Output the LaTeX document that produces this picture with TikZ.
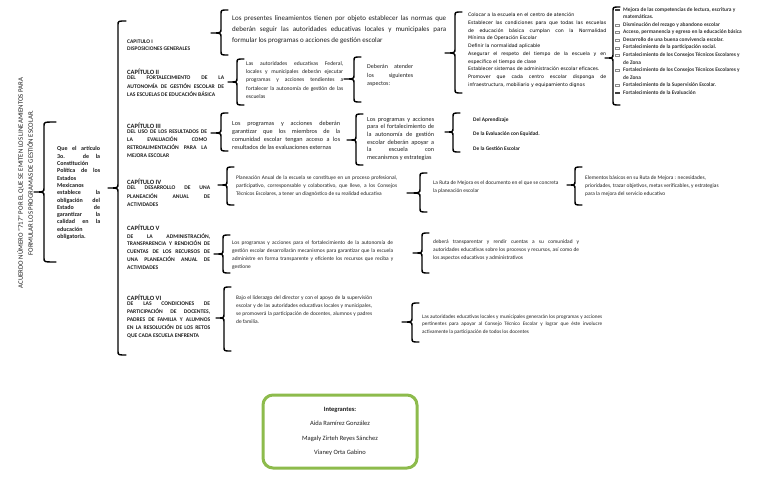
\documentclass[tikz,border=0pt]{standalone}
\usepackage{fontspec}
\setmainfont{Carlito}
\newfontfamily\dejavu{DejaVu Sans}
\newcommand\J[2]{\makebox[#1][s]{#2}}
\newcommand\fsz[2]{\fontsize{#1}{#2}\selectfont}
\newcommand\mybr[6]{\draw[br] (#2+#6,#3) .. controls (#2,#3) .. (#2,#3+4) -- (#2,#5-4) .. controls (#2,#5) .. (#1,#5) .. controls (#2,#5) .. (#2,#5+4) -- (#2,#4-4) .. controls (#2,#4) .. (#2+#6,#4);}
\definecolor{boxgreen}{RGB}{141,187,76}
\begin{document}
\begin{tikzpicture}[x=1pt,y=-1pt,
  br/.style={line width=1.4pt, line cap=round, line join=round, black},
  txt/.style={inner sep=0pt, anchor=north west, align=left, text=black!88},
  captitle/.style={txt, font=\bfseries\fsz{6.5}{8}},
  capbody/.style={txt, font=\bfseries\fsz{5.6}{8}}]
\fill[white] (0,0) rectangle (768,497);
\useasboundingbox (0,0) rectangle (768,497);

% braces
\mybr{34}{44}{122}{262}{192}{12}
\mybr{108}{118}{21}{355}{188}{8}
\mybr{211}{221}{10}{55}{33}{7}
\mybr{228}{237}{59}{105}{82}{7}
\mybr{344}{354}{57}{102}{79}{7}
\mybr{445}{455}{12}{93}{53}{7}
\mybr{605}{613}{7}{105}{58}{7}
\mybr{211}{221}{113}{151}{133}{7}
\mybr{347}{356}{114}{165}{140}{7}
\mybr{445}{453}{113}{152}{132}{7}
\mybr{218}{227}{167}{205}{185}{7}
\mybr{407}{420}{173}{212}{193}{7}
\mybr{567}{575}{167}{205}{185}{7}
\mybr{214}{223}{235}{273}{254}{7}
\mybr{413}{422}{233}{273}{253}{7}
\mybr{216}{224}{287}{351}{318}{7}
\mybr{402}{412}{303}{342}{322}{7}

% title
\node[inner sep=0pt, rotate=90, align=center, text=black!88, font=\fsz{6.8}{10}] (title) at (25,183)
 {ACUERDO NÚMERO "717" POR EL QUE SE EMITEN LOS LINEAMIENTOS PARA\\FORMULAR LOS PROGRAMAS DE GESTIÓN ESCOLAR.};

\node[txt, font=\bfseries\fsz{6}{7.3}] (que) at (57,146.5)
 {\J{43pt}{Que el artículo}\\ \J{43pt}{3o. de la}\\ Constitución\\ \J{43pt}{Política de los}\\ Estados\\ Mexicanos\\ \J{43pt}{establece la}\\ \J{43pt}{obligación del}\\ \J{43pt}{Estado de}\\ \J{43pt}{garantizar la}\\ \J{43pt}{calidad en la}\\ educación\\ obligatoria.};

% chapters
\node[txt, font=\bfseries\fsz{5.5}{7}] (c1) at (127,40.1) {CAPITULO I\\DISPOSICIONES GENERALES};
\node[captitle] (c2t) at (127,68.6) {CAPÍTULO II};
\node[capbody, font=\bfseries\fsz{5.6}{8.2}] (c2b) at (127,76.1)
 {\J{97pt}{DEL FORTALECIMIENTO DE LA}\\ \J{97pt}{AUTONOMÍA DE GESTIÓN ESCOLAR DE}\\ LAS ESCUELAS DE EDUCACIÓN BÁSICA};
\node[captitle] (c3t) at (127,122.6) {CAPÍTULO III};
\node[capbody] (c3b) at (127,130.1)
 {\J{80pt}{DEL USO DE LOS RESULTADOS DE}\\ \J{80pt}{LA EVALUACIÓN COMO}\\ \J{80pt}{RETROALIMENTACIÓN PARA LA}\\ MEJORA ESCOLAR};
\node[captitle] (c4t) at (127,178.6) {CAPÍTULO IV};
\node[capbody, font=\bfseries\fsz{5.6}{8.3}] (c4b) at (127,186.1)
 {\J{83pt}{DEL DESARROLLO DE UNA}\\ \J{83pt}{PLANEACIÓN ANUAL DE}\\ ACTIVIDADES};
\node[captitle] (c5t) at (127,224.6) {CAPÍTULO V};
\node[capbody, font=\bfseries\fsz{5.6}{7.9}] (c5b) at (127,233.1)
 {\J{83pt}{DE LA ADMINISTRACIÓN,}\\ \J{83pt}{TRANSPARENCIA Y RENDICIÓN DE}\\ \J{83pt}{CUENTAS DE LOS RECURSOS DE}\\ \J{83pt}{UNA PLANEACIÓN ANUAL DE}\\ ACTIVIDADES};
\node[captitle] (c6t) at (127,294.6) {CAPÍTULO VI};
\node[capbody] (c6b) at (127,302.1)
 {\J{83pt}{DE LAS CONDICIONES DE}\\ \J{83pt}{PARTICIPACIÓN DE DOCENTES,}\\ \J{83pt}{PADRES DE FAMILIA Y ALUMNOS}\\ \J{83pt}{EN LA RESOLUCIÓN DE LOS RETOS}\\ QUE CADA ESCUELA ENFRENTA};

% row I-II
\node[txt, font=\fsz{7}{11}] (t1) at (232,15.4)
 {\J{214pt}{Los presentes lineamientos tienen por objeto establecer las normas que}\\ \J{214pt}{deberán seguir las autoridades educativas locales y municipales para}\\ formular los programas o acciones de gestión escolar};
\node[txt, font=\fsz{5.6}{8.3}] (t2) at (246,61.1)
 {\J{97pt}{Las autoridades educativas Federal,}\\ \J{97pt}{locales y municipales deberán ejecutar}\\ \J{97pt}{programas y acciones tendientes a}\\ \J{97pt}{fortalecer la autonomía de gestión de las}\\ escuelas};
\node[txt, font=\fsz{6}{8.8}] (t3) at (367,63.9)
 {\J{46pt}{Deberán atender}\\ \J{46pt}{los siguientes}\\ aspectos:};
\node[txt, font=\dejavu\fsz{4.7}{7.75}, text=black] (t4) at (468,12.6)
 {Colocar a la escuela en el centro de atención\\
  \J{138pt}{Establecer las condiciones para que todas las escuelas}\\
  \J{138pt}{de educación básica cumplan con la Normalidad}\\
  Mínima de Operación Escolar\\
  Definir la normalidad aplicable\\
  \J{138pt}{Asegurar el respeto del tiempo de la escuela y en}\\
  específico el tiempo de clase\\
  Establecer sistemas de administración escolar eficaces.\\
  \J{138pt}{Promover que cada centro escolar disponga de}\\
  infraestructura, mobiliario y equipamiento dignos};
\node[txt, font=\bfseries\fsz{5.4}{7.55}, text=black!80] (t5) at (623,7.2)
 {Mejora de las competencias de lectura, escritura y\\
  matemáticas.\\
  Disminución del rezago y abandono escolar\\
  Acceso, permanencia y egreso en la educación básica\\
  Desarrollo de una buena convivencia escolar.\\
  Fortalecimiento de la participación social.\\
  Fortalecimiento de los Consejos Técnicos Escolares y\\
  de Zona\\
  Fortalecimiento de los Consejos Técnicos Escolares y\\
  de Zona\\
  Fortalecimiento de la Supervisión Escolar.\\
  Fortalecimiento de la Evaluación};
\foreach \yy in {10,93.05} \fill[black!75] (615,\yy-1.3) rectangle (620,\yy+1.3);
\foreach \yy in {25.1,32.65,40.2,47.75,55.3,70.4,85.5} \draw[black!45, line width=0.4pt] (615.5,\yy-1) rectangle (619.5,\yy+1);

% row III
\node[txt, font=\fsz{6.2}{8}] (t6) at (232,120.8)
 {\J{108pt}{Los programas y acciones deberán}\\ \J{108pt}{garantizar que los miembros de la}\\ \J{108pt}{comunidad escolar tengan acceso a los}\\ resultados de las evaluaciones externas};
\node[txt, font=\fsz{6.2}{7.6}] (t7) at (367,116.8)
 {\J{67pt}{Los programas y acciones}\\ \J{67pt}{para el fortalecimiento de}\\ \J{67pt}{la autonomía de gestión}\\ \J{67pt}{escolar deberán apoyar a}\\ \J{67pt}{la escuela con}\\ mecanismos y estrategias};
\node[txt, font=\bfseries\fsz{5.4}{14.5}] (t8) at (473,117.2)
 {Del Aprendizaje\\ De la Evaluación con Equidad.\\ De la Gestión Escolar};

% row IV
\node[txt, font=\fsz{5.4}{8}] (t9) at (236,175.2)
 {\J{161pt}{Planeación Anual de la escuela se constituye en un proceso profesional,}\\ \J{161pt}{participativo, corresponsable y colaborativo, que lleve, a los Consejos}\\ Técnicos Escolares, a tener un diagnóstico de su realidad educativa};
\node[txt, font=\fsz{5.4}{8}] (t10) at (433,180.2)
 {La Ruta de Mejora es el documento en el que se concreta\\ la planeación escolar};
\node[txt, font=\fsz{5.4}{8.4}] (t11) at (585,175.2)
 {Elementos básicos en su Ruta de Mejora : necesidades,\\ prioridades, trazar objetivos, metas verificables, y estrategias\\ para la mejora del servicio educativo};

% row V
\node[txt, font=\fsz{5.4}{8}] (t12) at (232,240.2)
 {\J{161pt}{Los programas y acciones para el fortalecimiento de la autonomía de}\\ \J{161pt}{gestión escolar desarrollarán mecanismos para garantizar que la escuela}\\ \J{161pt}{administre en forma transparente y eficiente los recursos que reciba y}\\ gestione};
\node[txt, font=\fsz{5.4}{8}] (t13) at (433,239.2)
 {\J{146pt}{deberá transparentar y rendir cuentas a su comunidad y}\\ \J{146pt}{autoridades educativas sobre los procesos y recursos, así como de}\\ los aspectos educativos y administrativos};

% row VI
\node[txt, font=\fsz{5.4}{8.2}] (t14) at (236,295.2)
 {\J{136pt}{Bajo el liderazgo del director y con el apoyo de la supervisión}\\ \J{136pt}{escolar y de las autoridades educativas locales y municipales,}\\ \J{136pt}{se promoverá la participación de docentes, alumnos y padres}\\ de familia.};
\node[txt, font=\fsz{5.2}{7.6}] (t15) at (422,314.3)
 {\J{180pt}{Las autoridades educativas locales y municipales generarán los programas y acciones}\\ \J{180pt}{pertinentes para apoyar al Consejo Técnico Escolar y lograr que éste involucre}\\ activamente la participación de todos los docentes};

% team box
\node[draw=boxgreen, line width=3pt, rounded corners=10pt, minimum width=154pt, minimum height=73pt,
      align=center, text=black!88, font=\fsz{6.5}{14.3}] (team) at (340,431.5)
 {\textbf{Integrantes:}\\ Aida Ramírez González\\ Magaly Zirteh Reyes Sánchez\\ Vianey Orta Gabino};
\end{tikzpicture}
\end{document}
